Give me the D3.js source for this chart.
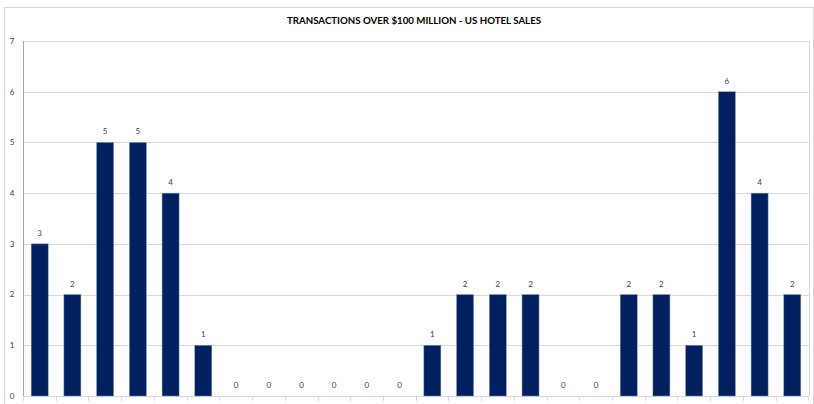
<!DOCTYPE html>
<html>
<head>
<meta charset="utf-8">
<script src="https://cdn.jsdelivr.net/npm/d3@7"></script>
<style>
  body { margin: 0; background: #fff; }
  text { font-family: Lato, "Open Sans", sans-serif; }
</style>
</head>
<body>
<svg width="814" height="404"></svg>
<script>
// one bar per period, labels on the x axis are not shown in the original
var periods = d3.range(1, 25).map(function(i) { return "P" + i; });
var deals = [3, 2, 5, 5, 4, 1, 0, 0, 0, 0, 0, 0, 1, 2, 2, 2, 0, 0, 2, 2, 1, 6, 4, 2];
var yTicks = [0, 1, 2, 3, 4, 5, 6, 7];
var title = "TRANSACTIONS OVER $100 MILLION - US HOTEL SALES";

var svg = d3.select("svg"),
    width = +svg.attr("width"),
    height = +svg.attr("height");

var margin = {top: 41, right: 5, bottom: 8, left: 23};

// chart area border
svg.append("rect")
    .attr("x", 4.5).attr("y", 7.5)
    .attr("width", width - 5).attr("height", height - 7)
    .attr("fill", "none")
    .attr("stroke", "#d9d9d9");

var x = d3.scaleBand()
    .domain(periods)
    .range([margin.left, width - margin.right])
    .paddingInner(0.48)
    .paddingOuter(0.25);

var y = d3.scaleLinear()
    .domain([0, 7])
    .range([height - margin.bottom, margin.top]);

// gridlines
svg.append("g")
    .selectAll("line")
    .data(yTicks)
    .enter().append("line")
    .attr("x1", margin.left).attr("x2", width - margin.right)
    .attr("y1", function(d) { return Math.round(y(d)) + 0.5; })
    .attr("y2", function(d) { return Math.round(y(d)) + 0.5; })
    .attr("stroke", "#d9d9d9");

// plot area right border
svg.append("line")
    .attr("x1", width - margin.right + 0.5).attr("x2", width - margin.right + 0.5)
    .attr("y1", y(7)).attr("y2", y(0))
    .attr("stroke", "#d9d9d9");

// y axis
svg.append("line")
    .attr("x1", margin.left + 0.5).attr("x2", margin.left + 0.5)
    .attr("y1", y(7)).attr("y2", y(0))
    .attr("stroke", "#a6a6a6");

svg.append("g")
    .selectAll("text")
    .data(yTicks)
    .enter().append("text")
    .attr("x", 12)
    .attr("y", function(d) { return y(d); })
    .attr("dy", "0.35em")
    .attr("text-anchor", "middle")
    .attr("font-size", 8)
    .attr("fill", "#404040")
    .text(function(d) { return d; });

// x axis line and category ticks
var step = x.step();
svg.append("line")
    .attr("x1", margin.left).attr("x2", width - margin.right)
    .attr("y1", Math.round(y(0)) + 0.5).attr("y2", Math.round(y(0)) + 0.5)
    .attr("stroke", "#d9d9d9");

svg.append("g")
    .selectAll("line")
    .data(d3.range(periods.length + 1))
    .enter().append("line")
    .attr("x1", function(i) { return Math.round(margin.left + i * step) + 0.5; })
    .attr("x2", function(i) { return Math.round(margin.left + i * step) + 0.5; })
    .attr("y1", y(0)).attr("y2", y(0) + 5)
    .attr("stroke", "#d9d9d9");

// bars
svg.append("g")
    .selectAll("rect")
    .data(deals)
    .enter().append("rect")
    .attr("x", function(d, i) { return x(periods[i]); })
    .attr("y", function(d) { return y(d); })
    .attr("width", x.bandwidth())
    .attr("height", function(d) { return y(0) - y(d); })
    .attr("fill", "#002060")
    .attr("stroke", "#8497b0")
    .attr("stroke-width", 0.5);

// data labels
svg.append("g")
    .selectAll("text")
    .data(deals)
    .enter().append("text")
    .attr("x", function(d, i) { return x(periods[i]) + x.bandwidth() / 2; })
    .attr("y", function(d) { return y(d) - 8; })
    .attr("text-anchor", "middle")
    .attr("font-size", 8)
    .attr("fill", "#404040")
    .text(function(d) { return d; });

// title
svg.append("text")
    .attr("x", 414)
    .attr("y", 24)
    .attr("text-anchor", "middle")
    .attr("font-size", 9.7)
    .attr("font-weight", "bold")
    .attr("fill", "#000")
    .text(title);
</script>
</body>
</html>
